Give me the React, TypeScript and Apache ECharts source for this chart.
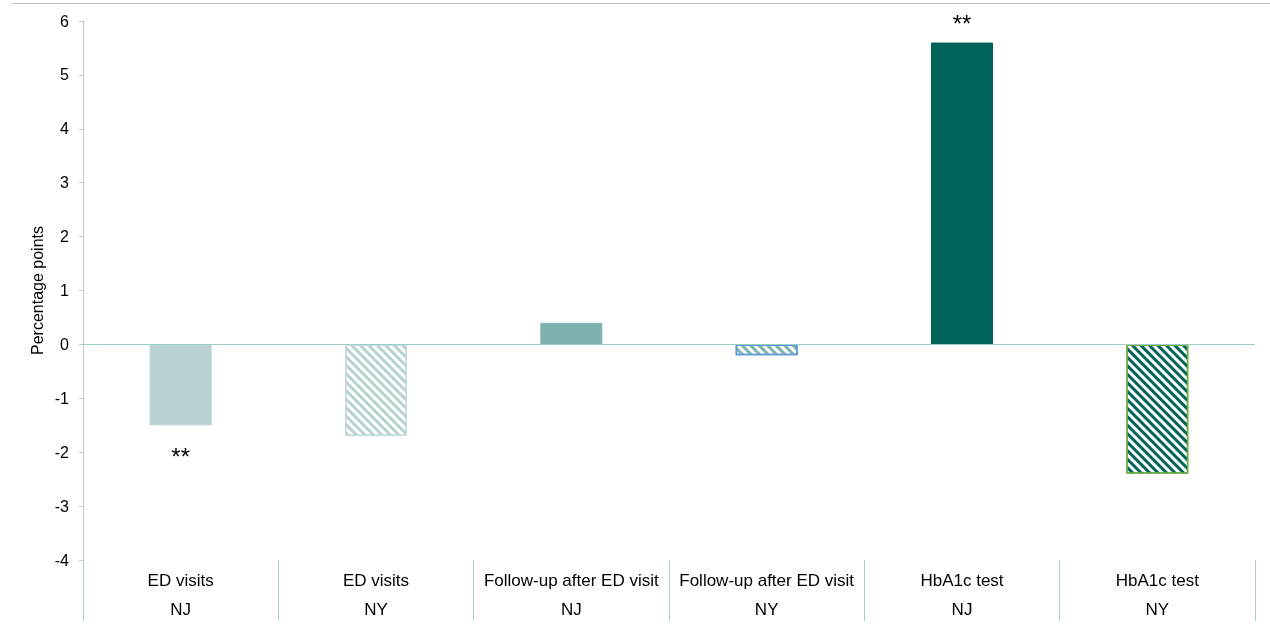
import React, { useEffect, useRef } from "react";
import * as echarts from "echarts";

const measures = ["ED visits", "ED visits", "Follow-up after ED visit", "Follow-up after ED visit", "HbA1c test", "HbA1c test"];
const states = ["NJ", "NY", "NJ", "NY", "NJ", "NY"];
const values = [-1.5, -1.7, 0.4, -0.2, 5.6, -2.4];
const significance = ["**", "", "", "", "**", ""];
const fillColors = ["#b8d2d2", "#b8d2d2", "#7fb3af", "#7fb3af", "#00645a", "#00645a"];
const borderColors = ["#b8d2d2", "#c5dcdc", "#7fb3af", "#5b9bd5", "#00645a", "#70ad47"];
const hatched = [false, true, false, true, false, true];
const yTicks = { min: -4, max: 6, interval: 1 };

const FONT = "'Liberation Sans', Arial, sans-serif";

export default function App() {
  const ref = useRef<HTMLDivElement>(null);
  useEffect(() => {
    if (!ref.current) return;
    const chart = echarts.init(ref.current, null, { renderer: "svg" });
    const data = values.map((v, i) => ({
      value: v,
      itemStyle: hatched[i]
        ? {
            color: "#ffffff",
            borderColor: borderColors[i],
            borderWidth: 1.5,
            decal: {
              symbol: "rect",
              symbolSize: 1,
              color: fillColors[i],
              backgroundColor: "#ffffff",
              dashArrayX: [1, 0],
              dashArrayY: [2.5, 3],
              rotation: Math.PI / 4,
            },
          }
        : { color: fillColors[i], borderColor: borderColors[i], borderWidth: 1 },
      label: {
        show: significance[i] !== "",
        formatter: significance[i],
        position: v >= 0 ? "top" : "bottom",
        distance: v >= 0 ? 7 : 19,
        fontSize: 24,
        color: "#000",
        fontFamily: FONT,
      },
    }));
    chart.setOption({
      animation: false,
      grid: { left: 83, right: 15, top: 21, bottom: 67, containLabel: false },
      graphic: [
        {
          type: "line",
          shape: { x1: 12, y1: 3.5, x2: 1270, y2: 3.5 },
          style: { stroke: "#bfbfbf", lineWidth: 1 },
          silent: true,
        },
      ],
      xAxis: [
        {
          type: "category",
          data: measures,
          position: "bottom",
          axisLine: { show: false, onZero: false },
          axisTick: { show: true, interval: 0, length: 61, lineStyle: { color: "#a6cfcc", width: 1 } },
          axisLabel: { interval: 0, margin: 12, fontSize: 17, color: "#000", fontFamily: FONT },
          splitLine: { show: false },
        },
        {
          type: "category",
          data: states,
          position: "bottom",
          axisLine: { show: false, onZero: false },
          axisTick: { show: false },
          axisLabel: { interval: 0, margin: 41, fontSize: 17, color: "#000", fontFamily: FONT },
          splitLine: { show: false },
        },
      ],
      yAxis: {
        type: "value",
        min: yTicks.min,
        max: yTicks.max,
        interval: yTicks.interval,
        name: "Percentage points",
        nameLocation: "middle",
        nameGap: 38,
        nameMoveOverlap: false,
        nameTextStyle: { fontSize: 16, color: "#000", fontFamily: FONT },
        axisLine: { show: true, lineStyle: { color: "#c8c8c8", width: 1 } },
        axisTick: { show: true, length: 4, lineStyle: { color: "#c8c8c8" } },
        axisLabel: { margin: 14, fontSize: 16, color: "#000", fontFamily: FONT },
        splitLine: { show: false },
      },
      series: [
        {
          type: "bar",
          xAxisIndex: 0,
          data,
          barWidth: 62,
          markLine: {
            silent: true,
            symbol: "none",
            label: { show: false },
            lineStyle: { color: "#9dcdc7", type: "solid", width: 1 },
            data: [{ yAxis: 0 }],
          },
        },
      ],
    });
    return () => chart.dispose();
  }, []);
  return <div ref={ref} style={{ position: "fixed", left: 0, top: 0, width: 1270, height: 627 }} />;
}
